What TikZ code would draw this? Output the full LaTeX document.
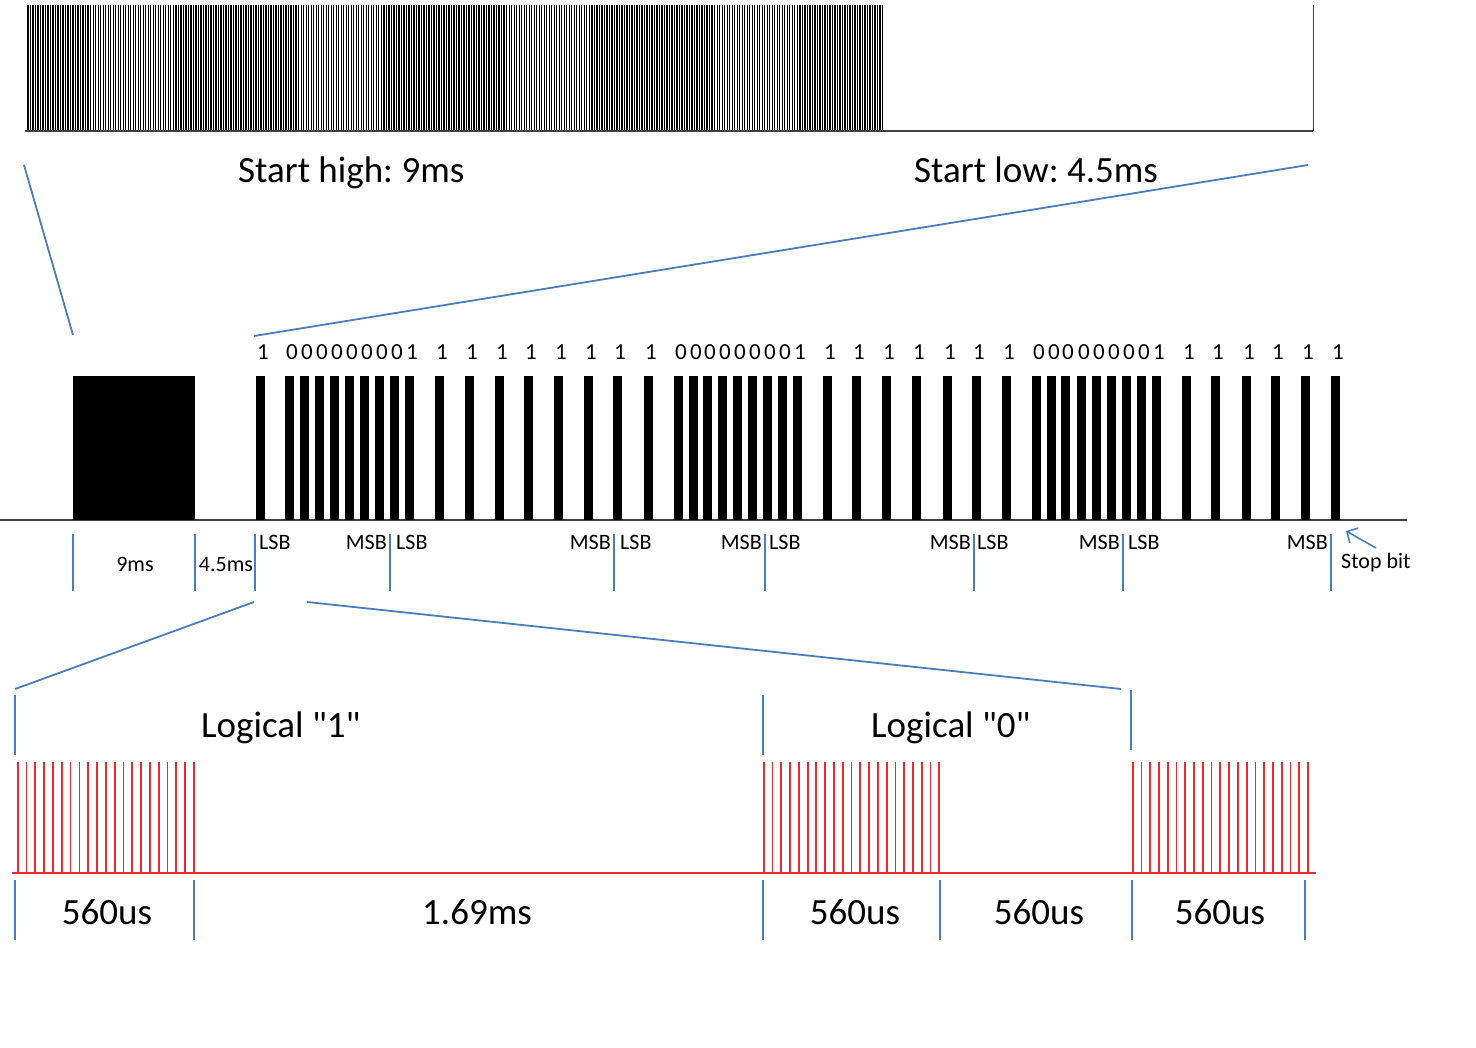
\documentclass[tikz,border=0pt]{standalone}
\usepackage{fontspec}
\setmainfont{Carlito}
\usetikzlibrary{arrows.meta}
\definecolor{ublue}{HTML}{4A7EBB}
\definecolor{ured}{HTML}{F0282D}
\definecolor{ugray}{HTML}{404040}
\frenchspacing
\begin{document}
\begin{tikzpicture}[x=1pt,y=-1pt,
  bluel/.style={draw=ublue, line width=1.8pt},
  redl/.style={draw=ured, line width=1.8pt},
  basel/.style={draw=ugray, line width=1.5pt},
  small/.style={font=\fontsize{22}{26}\selectfont, inner sep=0pt},
  big/.style={font=\fontsize{37}{43}\selectfont, inner sep=0pt},
  digit/.style={font=\fontsize{23}{27}\selectfont, inner sep=0pt, anchor=base}]
\useasboundingbox (0,0) rectangle (1476,1048);
\fill[white] (0,0) rectangle (1476,1048);

% ---- top burst (start high 9ms) ----
\foreach \i in {0,...,341}
  \draw[line width=1.3pt] ({28+\i*2.506},5) -- ({28+\i*2.506},131);
\coordinate (tb0) at (25,131);
\coordinate (tb1) at (1313,131);
\coordinate (tb2) at (1313,5);
\draw[basel] (tb0) -- (tb1);
\draw[ugray, line width=1pt] (tb1) -- (tb2);
\node[big, anchor=base west] (starthigh) at (238,183) {Start high: 9ms};
\node[big, anchor=base west] (startlow) at (914,183) {Start low: 4.5ms};

% ---- zoom connectors top ----
\coordinate (z1a) at (24,165);  \coordinate (z1b) at (73,335);
\coordinate (z2a) at (254,336); \coordinate (z2b) at (1308,165);
\draw[bluel] (z1a) -- (z1b);
\draw[bluel] (z2a) -- (z2b);

% ---- middle frame ----
\coordinate (mb0) at (0,520);
\coordinate (mb1) at (1407,520);
\draw[basel] (mb0) -- (mb1);
\fill[black] (73,376) rectangle (195,520);
\foreach \x/\d [count=\k] in {256/1,
  285/0,300/0,315/0,330/0,345/0,360/0,375/0,390/0,405/1,
  435/1,465/1,495/1,524/1,554/1,584/1,613/1,644/1,
  674/0,689/0,703/0,718/0,733/0,748/0,763/0,778/0,793/1,
  823/1,852/1,882/1,912/1,943/1,972/1,1002/1,
  1032/0,1047/0,1061/0,1077/0,1092/0,1107/0,1122/0,1137/0,1152/1,
  1182/1,1211/1,1242/1,1271/1,1301/1,1331/1}
{
  \fill[black] (\x,376) rectangle ++(8.5,144);
  \node[digit] (d\k) at (\x+7,360) {\d};
}

% ticks under middle frame
\foreach \t [count=\k] in {73,195,255,390,614,765,974,1123,1331}
{
  \coordinate (mt\k a) at (\t,534);
  \coordinate (mt\k b) at (\t,591);
  \draw[bluel] (mt\k a) -- (mt\k b);
}
\node[small, anchor=base] (l9ms) at (135,571) {9ms};
\node[small, anchor=base] (l45ms) at (226,571) {4.5ms};
\node[small, anchor=base west] (lsb1) at (259,549.5) {LSB};
\node[small, anchor=base east] (msb1) at (387,549.5) {MSB};
\node[small, anchor=base west] (lsb2) at (396,549.5) {LSB};
\node[small, anchor=base east] (msb2) at (611,549.5) {MSB};
\node[small, anchor=base west] (lsb3) at (620,549.5) {LSB};
\node[small, anchor=base east] (msb3) at (762,549.5) {MSB};
\node[small, anchor=base west] (lsb4) at (769,549.5) {LSB};
\node[small, anchor=base east] (msb4) at (971,549.5) {MSB};
\node[small, anchor=base west] (lsb5) at (977,549.5) {LSB};
\node[small, anchor=base east] (msb5) at (1120,549.5) {MSB};
\node[small, anchor=base west] (lsb6) at (1128,549.5) {LSB};
\node[small, anchor=base east] (msb6) at (1328,549.5) {MSB};
\node[small, anchor=base west] (stopbit) at (1341,568) {Stop bit};
\coordinate (arT) at (1376,548);
\coordinate (arH) at (1346,531);
\draw[draw=ublue, line width=1.6pt, -{Straight Barb[length=8pt,width=17pt]}] (arT) -- (arH);

% ---- zoom connectors bottom ----
\coordinate (z3a) at (254,602); \coordinate (z3b) at (15,689);
\coordinate (z4a) at (307,602); \coordinate (z4b) at (1121,689);
\draw[bluel] (z3a) -- (z3b);
\draw[bluel] (z4a) -- (z4b);

% ---- bottom: logical 1 and 0 ----
\foreach \t/\ya/\yb [count=\k] in {15/695/755, 763/695/755, 1131/690/750}
{
  \coordinate (ut\k a) at (\t,\ya);
  \coordinate (ut\k b) at (\t,\yb);
  \draw[bluel] (ut\k a) -- (ut\k b);
}
\node[big, anchor=base west] (log1) at (201,737) {Logical \textquotedbl 1\textquotedbl};
\node[big, anchor=base west] (log0) at (871,737) {Logical \textquotedbl 0\textquotedbl};

\foreach \s/\w in {17.7/8.815, 763.7/8.78, 1132.7/8.765}
  \foreach \i in {0,...,20}
    \draw[redl] ({\s+\i*\w},762) -- ({\s+\i*\w},873);
\coordinate (rb0) at (12,873);
\coordinate (rb1) at (1316,873);
\draw[draw=ured, line width=1.2pt] (rb0) -- (rb1);

\foreach \t [count=\k] in {15,194,763,940,1132,1305}
{
  \coordinate (bt\k a) at (\t,880);
  \coordinate (bt\k b) at (\t,940);
  \draw[bluel] (bt\k a) -- (bt\k b);
}
\node[big, anchor=base] (u1) at (107,924) {560us};
\node[big, anchor=base] (u2) at (477,924) {1.69ms};
\node[big, anchor=base] (u3) at (855,924) {560us};
\node[big, anchor=base] (u4) at (1039,924) {560us};
\node[big, anchor=base] (u5) at (1220,924) {560us};
\end{tikzpicture}
\end{document}
